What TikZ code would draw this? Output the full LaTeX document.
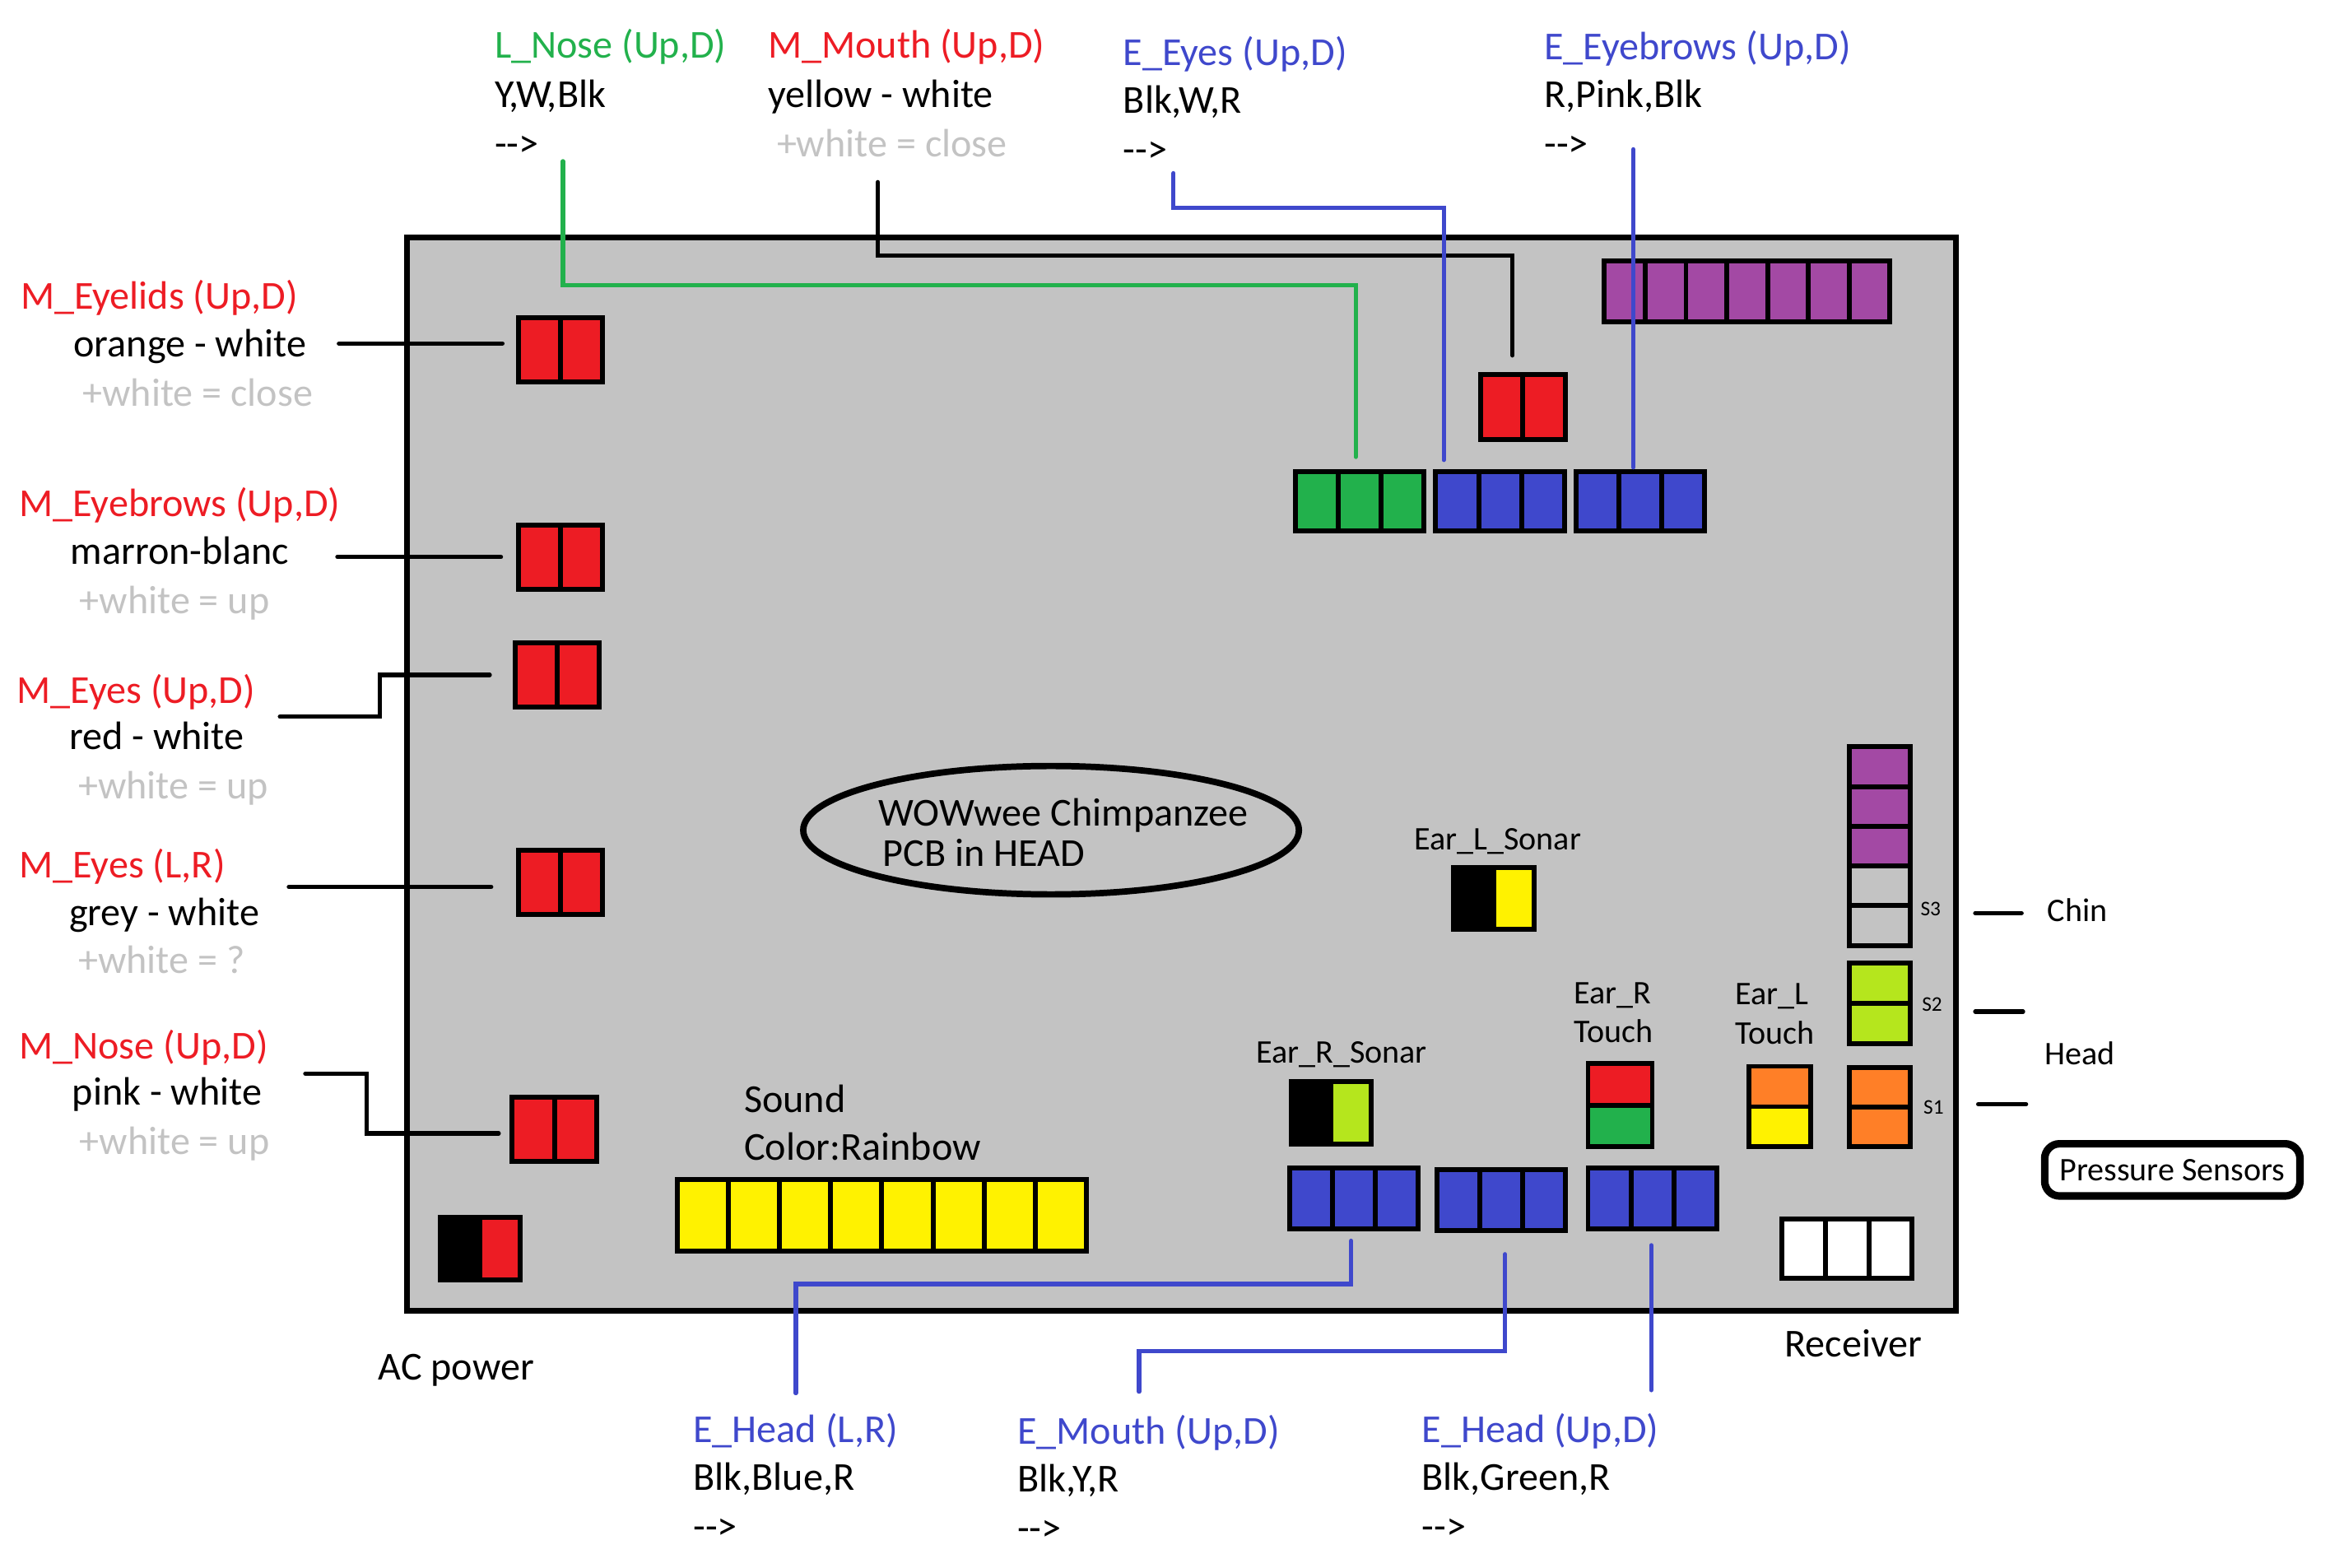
\documentclass[tikz,border=0pt]{standalone}
\usepackage{fontspec}
\setmainfont{Carlito}
\usetikzlibrary{shapes.geometric}
\definecolor{pcbgray}{HTML}{C3C3C3}
\definecolor{pcbred}{HTML}{ED1C24}
\definecolor{pcbgreen}{HTML}{22B14C}
\definecolor{pcbblue}{HTML}{3F48CC}
\definecolor{pcbpurple}{HTML}{A349A4}
\definecolor{pcbyellow}{HTML}{FFF200}
\definecolor{pcborange}{HTML}{FF7F27}
\definecolor{pcblime}{HTML}{B5E61D}
\def\pu{0.01814cm}
\tikzset{
    cell/.style={draw=black, line width=1.7pt, inner sep=0pt, anchor=north west},
    txt/.style={anchor=base west, inner sep=0pt, font=\fontsize{13.7}{16}\selectfont},
    small/.style={txt, font=\fontsize{11.4}{13}\selectfont},
    tiny/.style={txt, font=\fontsize{7.2}{8}\selectfont},
    wire/.style={line width=1.5pt, line cap=round, line join=miter},
}
\newcommand{\hblock}[6]{%
    \foreach \col [count=\idx] in {#6} {
        \node[cell, fill=\col, minimum width=#4*\pu, minimum height=#5*\pu] (#1-\idx) at ({#2+(\idx-1)*#4},#3) {};
    }
}
\newcommand{\vblock}[6]{%
    \foreach \col [count=\idx] in {#6} {
        \node[cell, fill=\col, minimum width=#4*\pu, minimum height=#5*\pu] (#1-\idx) at (#2,{#3+(\idx-1)*#5}) {};
    }
}
\begin{document}
\begin{tikzpicture}[x=\pu, y=-\pu]
    \useasboundingbox (0,0) rectangle (1570,1049.7);
    \node[draw=black, line width=2pt, fill=pcbgray, inner sep=0pt, anchor=north west, minimum width=1037.5*\pu, minimum height=719*\pu] (board) at (270.5,157) {};

    % connectors on the board
    \hblock{headPurple}{1073}{173}{27.3}{41}{pcbpurple,pcbpurple,pcbpurple,pcbpurple,pcbpurple,pcbpurple,pcbpurple}
    \hblock{mouthRed}{990}{249}{28.3}{43.5}{pcbred,pcbred}
    \hblock{noseGreen}{866}{314}{28.7}{40}{pcbgreen,pcbgreen,pcbgreen}
    \hblock{eyesBlue}{960}{314}{28.7}{40}{pcbblue,pcbblue,pcbblue}
    \hblock{browsBlue}{1054}{314}{28.7}{40}{pcbblue,pcbblue,pcbblue}
    \hblock{lidsRed}{345.5}{211}{28.2}{43}{pcbred,pcbred}
    \hblock{browsRed}{345.5}{350}{28.2}{43}{pcbred,pcbred}
    \hblock{eyesRed}{343.5}{429}{28.2}{43}{pcbred,pcbred}
    \hblock{eyesLRRed}{345.5}{568}{28.2}{43}{pcbred,pcbred}
    \hblock{noseRed}{341.5}{733}{28.2}{43}{pcbred,pcbred}
    \hblock{acPower}{293}{813.5}{27}{42}{black,pcbred}
    \hblock{sound}{452}{788.5}{34.25}{48}{pcbyellow,pcbyellow,pcbyellow,pcbyellow,pcbyellow,pcbyellow,pcbyellow,pcbyellow}
    \hblock{sonarR}{863}{722.5}{27}{42}{black,pcblime}
    \hblock{sonarL}{972}{579.5}{27}{41}{black,pcbyellow}
    \hblock{headLR}{862}{780.5}{28.7}{41}{pcbblue,pcbblue,pcbblue}
    \hblock{mouthBlue}{961}{781.5}{28.7}{41}{pcbblue,pcbblue,pcbblue}
    \hblock{headUD}{1062}{780.5}{28.7}{41}{pcbblue,pcbblue,pcbblue}
    \hblock{receiver}{1192}{814.5}{29}{40}{white,white,white}
    \vblock{touchR}{1062}{710.5}{43}{28}{pcbred,pcbgreen}
    \vblock{touchL}{1170}{712.5}{41}{27}{pcborange,pcbyellow}
    \vblock{sensorC}{1237}{498.5}{41}{26.6}{pcbpurple,pcbpurple,pcbpurple,pcbgray,pcbgray}
    \vblock{sensorB}{1237}{643.5}{41}{27}{pcblime,pcblime}
    \vblock{sensorA}{1237}{713.5}{41}{26.5}{pcborange,pcborange}

    % wires
    \coordinate (noseA) at (377,108);
    \coordinate (noseB) at (908,191);
    \coordinate (mouthA) at (588,122);
    \coordinate (mouthB) at (1013,171);
    \coordinate (eyesA) at (786,116);
    \coordinate (eyesB) at (967,139);
    \coordinate (browsA) at (1094,100);
    \draw[wire, pcbgreen, shorten >=8*\pu] (noseA) |- (noseB) -- (noseB |- noseGreen-1.north);
    \draw[wire, black, shorten >=11*\pu] (mouthA) |- (mouthB) -- (mouthB |- mouthRed-1.north);
    \draw[wire, pcbblue, shorten >=6*\pu] (eyesA) |- (eyesB) -- (eyesB |- eyesBlue-1.north);
    \draw[wire, pcbblue, shorten >=1*\pu] (browsA) -- (browsA |- browsBlue-1.north);

    \coordinate (lidsA) at (227,230);
    \coordinate (rbrowsA) at (226,373);
    \coordinate (reyesA) at (187.5,480);
    \coordinate (reyesB) at (254.5,452);
    \coordinate (reyesLRA) at (193.5,594);
    \coordinate (rnoseA) at (204.5,719);
    \coordinate (rnoseB) at (245.5,759);
    \draw[wire, shorten >=9*\pu] (lidsA) -- (lidsA -| lidsRed-1.west);
    \draw[wire, shorten >=10*\pu] (rbrowsA) -- (rbrowsA -| browsRed-1.west);
    \draw[wire, shorten >=15.5*\pu] (reyesA) -| (reyesB) -- (reyesB -| eyesRed-1.west);
    \draw[wire, shorten >=16.5*\pu] (reyesLRA) -- (reyesLRA -| eyesLRRed-1.west);
    \draw[wire, shorten >=7.5*\pu] (rnoseA) -| (rnoseB) -- (rnoseB -| noseRed-1.west);

    \coordinate (headA) at (905,831);
    \coordinate (headB) at (533,860);
    \coordinate (headC) at (533,933);
    \coordinate (bmouthA) at (1008,840);
    \coordinate (bmouthB) at (763,905);
    \coordinate (bmouthC) at (763,932);
    \coordinate (headUDA) at (1106,834);
    \coordinate (headUDB) at (1106,931);
    \draw[wire, pcbblue] (headA) |- (headB) -- (headC);
    \draw[wire, pcbblue] (bmouthA) |- (bmouthB) -- (bmouthC);
    \draw[wire, pcbblue] (headUDA) -- (headUDB);

    % sensor ticks
    \coordinate (chinA) at (1323,611.5);
    \coordinate (chinB) at (1354,611.5);
    \coordinate (headTickA) at (1323,677.5);
    \coordinate (headTickB) at (1355,677.5);
    \coordinate (palmA) at (1325,739.5);
    \coordinate (palmB) at (1357,739.5);
    \draw[wire] (chinA) -- (chinB);
    \draw[wire] (headTickA) -- (headTickB);
    \draw[wire] (palmA) -- (palmB);

    % top labels
    \node[txt, pcbgreen] (lNose) at (331,39) {L\_Nose (Up,D)};
    \node[txt] (lNoseW) at (331,72) {Y,W,Blk};
    \node[txt] (lNoseP) at (331,105) {-{}->};
    \node[txt, pcbred] (mMouth) at (514,39) {M\_Mouth (Up,D)};
    \node[txt] (mMouthW) at (514,72) {yellow - white};
    \node[txt, pcbgray] (mMouthN) at (520,105) {+white = close};
    \node[txt, pcbblue] (eEyes) at (752,44) {E\_Eyes (Up,D)};
    \node[txt] (eEyesW) at (752,76) {Blk,W,R};
    \node[txt] (eEyesP) at (752,109) {-{}->};
    \node[txt, pcbblue] (eBrows) at (1034,40) {E\_Eyebrows (Up,D)};
    \node[txt] (eBrowsW) at (1034,72) {R,Pink,Blk};
    \node[txt] (eBrowsP) at (1034,105) {-{}->};

    % left labels
    \node[txt, pcbred] (mLids) at (13.5,207) {M\_Eyelids (Up,D)};
    \node[txt] (mLidsW) at (49,239) {orange - white};
    \node[txt, pcbgray] (mLidsN) at (55,272) {+white = close};
    \node[txt, pcbred] (mBrows) at (12.5,346) {M\_Eyebrows (Up,D)};
    \node[txt] (mBrowsW) at (47,378) {marron-blanc};
    \node[txt, pcbgray] (mBrowsN) at (53,411) {+white = up};
    \node[txt, pcbred] (mEyes) at (11,471) {M\_Eyes (Up,D)};
    \node[txt] (mEyesW) at (46,502) {red - white};
    \node[txt, pcbgray] (mEyesN) at (52,535) {+white = up};
    \node[txt, pcbred] (mEyesLR) at (12.5,588) {M\_Eyes (L,R)};
    \node[txt] (mEyesLRW) at (46,620) {grey - white};
    \node[txt, pcbgray] (mEyesLRN) at (52,652) {+white = ?};
    \node[txt, pcbred] (mNose) at (12.5,709) {M\_Nose (Up,D)};
    \node[txt] (mNoseW) at (48,740) {pink - white};
    \node[txt, pcbgray] (mNoseN) at (53,773) {+white = up};

    % bottom labels
    \node[txt] (acLabel) at (253,924) {AC power};
    \node[txt] (rcvLabel) at (1195,909) {Receiver};
    \node[txt, pcbblue] (eHead) at (464,966) {E\_Head (L,R)};
    \node[txt] (eHeadW) at (464,998) {Blk,Blue,R};
    \node[txt] (eHeadP) at (464,1031) {-{}->};
    \node[txt, pcbblue] (eMouth) at (681,967) {E\_Mouth (Up,D)};
    \node[txt] (eMouthW) at (681,999) {Blk,Y,R};
    \node[txt] (eMouthP) at (681,1032) {-{}->};
    \node[txt, pcbblue] (eHeadUD) at (952,966) {E\_Head (Up,D)};
    \node[txt] (eHeadUDW) at (952,998) {Blk,Green,R};
    \node[txt] (eHeadUDP) at (952,1031) {-{}->};

    % board labels
    \node[draw=black, line width=2.2pt, ellipse, inner sep=0pt, minimum width=332*\pu, minimum height=86*\pu] (pcb) at (704,556) {};
    \node[txt] (pcbA) at (588,553) {WOWwee Chimpanzee};
    \node[txt] (pcbB) at (591,580) {PCB in HEAD};
    \node[txt] (soundA) at (498,745) {Sound};
    \node[txt] (soundB) at (498,777) {Color:Rainbow};
    \node[small] (sonarLL) at (947,569) {Ear\_L\_Sonar};
    \node[small] (sonarRL) at (841,712) {Ear\_R\_Sonar};
    \node[small] (touchRA) at (1054,672) {Ear\_R};
    \node[small] (touchRB) at (1054,698) {Touch};
    \node[small] (touchLA) at (1162,673) {Ear\_L};
    \node[small] (touchLB) at (1162,699) {Touch};
    \node[tiny] (sThree) at (1286,613) {S3};
    \node[tiny] (sTwo) at (1287,677) {S2};
    \node[tiny] (sOne) at (1288,746) {S1};

    % right labels
    \node[small] (chin) at (1371,617) {Chin};
    \node[small] (head) at (1369,713) {Head};
    \node[draw=black, line width=2.6pt, rounded corners=10*\pu, font=\fontsize{11.4}{13}\selectfont, minimum width=171*\pu, minimum height=35*\pu, inner sep=0pt] (pressure) at (1455,783.5) {Pressure Sensors};
\end{tikzpicture}
\end{document}
